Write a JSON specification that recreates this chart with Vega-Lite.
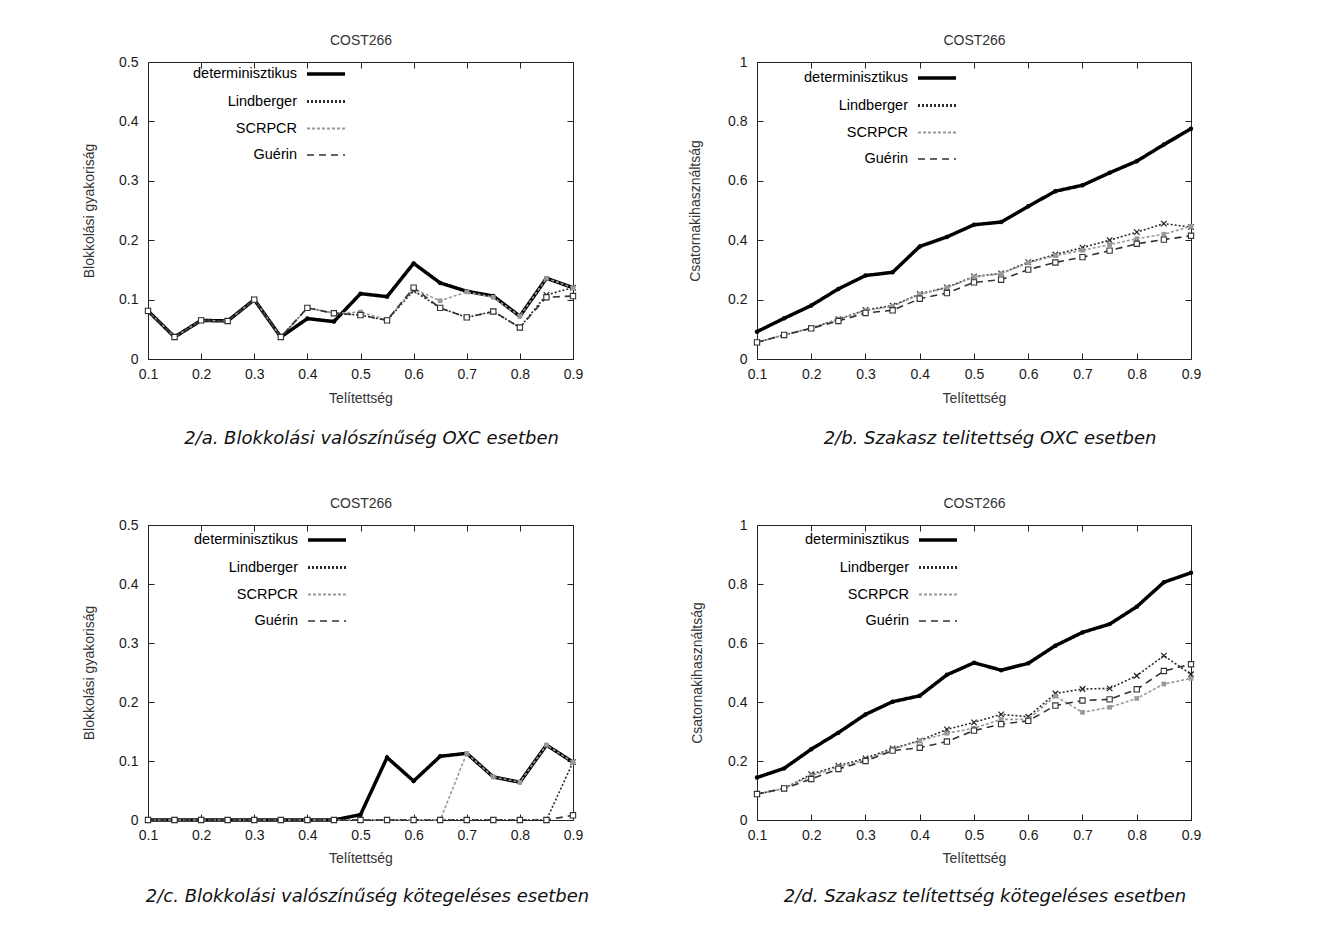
{
"$schema": "https://vega.github.io/schema/vega-lite/v6.json",
"background": "white",
"padding": {"left": 82, "top": 33, "right": 10, "bottom": 10},
"data": {"values": [
{"panel":"a","series":"determinisztikus","x":0.1,"y":0.081},{"panel":"a","series":"determinisztikus","x":0.15,"y":0.037},{"panel":"a","series":"determinisztikus","x":0.2,"y":0.065},{"panel":"a","series":"determinisztikus","x":0.25,"y":0.064},{"panel":"a","series":"determinisztikus","x":0.3,"y":0.100},{"panel":"a","series":"determinisztikus","x":0.35,"y":0.037},{"panel":"a","series":"determinisztikus","x":0.4,"y":0.068},{"panel":"a","series":"determinisztikus","x":0.45,"y":0.063},{"panel":"a","series":"determinisztikus","x":0.5,"y":0.110},{"panel":"a","series":"determinisztikus","x":0.55,"y":0.105},{"panel":"a","series":"determinisztikus","x":0.6,"y":0.161},{"panel":"a","series":"determinisztikus","x":0.65,"y":0.128},{"panel":"a","series":"determinisztikus","x":0.7,"y":0.114},{"panel":"a","series":"determinisztikus","x":0.75,"y":0.106},{"panel":"a","series":"determinisztikus","x":0.8,"y":0.072},{"panel":"a","series":"determinisztikus","x":0.85,"y":0.136},{"panel":"a","series":"determinisztikus","x":0.9,"y":0.120},
{"panel":"a","series":"Lindberger","x":0.1,"y":0.081},{"panel":"a","series":"Lindberger","x":0.15,"y":0.037},{"panel":"a","series":"Lindberger","x":0.2,"y":0.065},{"panel":"a","series":"Lindberger","x":0.25,"y":0.064},{"panel":"a","series":"Lindberger","x":0.3,"y":0.100},{"panel":"a","series":"Lindberger","x":0.35,"y":0.037},{"panel":"a","series":"Lindberger","x":0.4,"y":0.086},{"panel":"a","series":"Lindberger","x":0.45,"y":0.077},{"panel":"a","series":"Lindberger","x":0.5,"y":0.074},{"panel":"a","series":"Lindberger","x":0.55,"y":0.065},{"panel":"a","series":"Lindberger","x":0.6,"y":0.115},{"panel":"a","series":"Lindberger","x":0.65,"y":0.086},{"panel":"a","series":"Lindberger","x":0.7,"y":0.070},{"panel":"a","series":"Lindberger","x":0.75,"y":0.080},{"panel":"a","series":"Lindberger","x":0.8,"y":0.053},{"panel":"a","series":"Lindberger","x":0.85,"y":0.108},{"panel":"a","series":"Lindberger","x":0.9,"y":0.120},
{"panel":"a","series":"SCRPCR","x":0.1,"y":0.081},{"panel":"a","series":"SCRPCR","x":0.15,"y":0.037},{"panel":"a","series":"SCRPCR","x":0.2,"y":0.065},{"panel":"a","series":"SCRPCR","x":0.25,"y":0.064},{"panel":"a","series":"SCRPCR","x":0.3,"y":0.100},{"panel":"a","series":"SCRPCR","x":0.35,"y":0.037},{"panel":"a","series":"SCRPCR","x":0.4,"y":0.086},{"panel":"a","series":"SCRPCR","x":0.45,"y":0.077},{"panel":"a","series":"SCRPCR","x":0.5,"y":0.079},{"panel":"a","series":"SCRPCR","x":0.55,"y":0.066},{"panel":"a","series":"SCRPCR","x":0.6,"y":0.118},{"panel":"a","series":"SCRPCR","x":0.65,"y":0.098},{"panel":"a","series":"SCRPCR","x":0.7,"y":0.113},{"panel":"a","series":"SCRPCR","x":0.75,"y":0.104},{"panel":"a","series":"SCRPCR","x":0.8,"y":0.072},{"panel":"a","series":"SCRPCR","x":0.85,"y":0.136},{"panel":"a","series":"SCRPCR","x":0.9,"y":0.120},
{"panel":"a","series":"Guérin","x":0.1,"y":0.081},{"panel":"a","series":"Guérin","x":0.15,"y":0.037},{"panel":"a","series":"Guérin","x":0.2,"y":0.065},{"panel":"a","series":"Guérin","x":0.25,"y":0.064},{"panel":"a","series":"Guérin","x":0.3,"y":0.100},{"panel":"a","series":"Guérin","x":0.35,"y":0.037},{"panel":"a","series":"Guérin","x":0.4,"y":0.086},{"panel":"a","series":"Guérin","x":0.45,"y":0.077},{"panel":"a","series":"Guérin","x":0.5,"y":0.074},{"panel":"a","series":"Guérin","x":0.55,"y":0.065},{"panel":"a","series":"Guérin","x":0.6,"y":0.120},{"panel":"a","series":"Guérin","x":0.65,"y":0.086},{"panel":"a","series":"Guérin","x":0.7,"y":0.070},{"panel":"a","series":"Guérin","x":0.75,"y":0.080},{"panel":"a","series":"Guérin","x":0.8,"y":0.053},{"panel":"a","series":"Guérin","x":0.85,"y":0.104},{"panel":"a","series":"Guérin","x":0.9,"y":0.106},
{"panel":"b","series":"determinisztikus","x":0.1,"y":0.092},{"panel":"b","series":"determinisztikus","x":0.15,"y":0.137},{"panel":"b","series":"determinisztikus","x":0.2,"y":0.180},{"panel":"b","series":"determinisztikus","x":0.25,"y":0.236},{"panel":"b","series":"determinisztikus","x":0.3,"y":0.281},{"panel":"b","series":"determinisztikus","x":0.35,"y":0.292},{"panel":"b","series":"determinisztikus","x":0.4,"y":0.379},{"panel":"b","series":"determinisztikus","x":0.45,"y":0.411},{"panel":"b","series":"determinisztikus","x":0.5,"y":0.452},{"panel":"b","series":"determinisztikus","x":0.55,"y":0.461},{"panel":"b","series":"determinisztikus","x":0.6,"y":0.514},{"panel":"b","series":"determinisztikus","x":0.65,"y":0.565},{"panel":"b","series":"determinisztikus","x":0.7,"y":0.585},{"panel":"b","series":"determinisztikus","x":0.75,"y":0.627},{"panel":"b","series":"determinisztikus","x":0.8,"y":0.666},{"panel":"b","series":"determinisztikus","x":0.85,"y":0.722},{"panel":"b","series":"determinisztikus","x":0.9,"y":0.775},
{"panel":"b","series":"Lindberger","x":0.1,"y":0.056},{"panel":"b","series":"Lindberger","x":0.15,"y":0.081},{"panel":"b","series":"Lindberger","x":0.2,"y":0.104},{"panel":"b","series":"Lindberger","x":0.25,"y":0.134},{"panel":"b","series":"Lindberger","x":0.3,"y":0.165},{"panel":"b","series":"Lindberger","x":0.35,"y":0.180},{"panel":"b","series":"Lindberger","x":0.4,"y":0.219},{"panel":"b","series":"Lindberger","x":0.45,"y":0.241},{"panel":"b","series":"Lindberger","x":0.5,"y":0.278},{"panel":"b","series":"Lindberger","x":0.55,"y":0.288},{"panel":"b","series":"Lindberger","x":0.6,"y":0.326},{"panel":"b","series":"Lindberger","x":0.65,"y":0.352},{"panel":"b","series":"Lindberger","x":0.7,"y":0.375},{"panel":"b","series":"Lindberger","x":0.75,"y":0.400},{"panel":"b","series":"Lindberger","x":0.8,"y":0.427},{"panel":"b","series":"Lindberger","x":0.85,"y":0.456},{"panel":"b","series":"Lindberger","x":0.9,"y":0.444},
{"panel":"b","series":"SCRPCR","x":0.1,"y":0.056},{"panel":"b","series":"SCRPCR","x":0.15,"y":0.081},{"panel":"b","series":"SCRPCR","x":0.2,"y":0.104},{"panel":"b","series":"SCRPCR","x":0.25,"y":0.134},{"panel":"b","series":"SCRPCR","x":0.3,"y":0.163},{"panel":"b","series":"SCRPCR","x":0.35,"y":0.177},{"panel":"b","series":"SCRPCR","x":0.4,"y":0.218},{"panel":"b","series":"SCRPCR","x":0.45,"y":0.240},{"panel":"b","series":"SCRPCR","x":0.5,"y":0.276},{"panel":"b","series":"SCRPCR","x":0.55,"y":0.287},{"panel":"b","series":"SCRPCR","x":0.6,"y":0.324},{"panel":"b","series":"SCRPCR","x":0.65,"y":0.348},{"panel":"b","series":"SCRPCR","x":0.7,"y":0.366},{"panel":"b","series":"SCRPCR","x":0.75,"y":0.385},{"panel":"b","series":"SCRPCR","x":0.8,"y":0.405},{"panel":"b","series":"SCRPCR","x":0.85,"y":0.420},{"panel":"b","series":"SCRPCR","x":0.9,"y":0.447},
{"panel":"b","series":"Guérin","x":0.1,"y":0.056},{"panel":"b","series":"Guérin","x":0.15,"y":0.081},{"panel":"b","series":"Guérin","x":0.2,"y":0.103},{"panel":"b","series":"Guérin","x":0.25,"y":0.128},{"panel":"b","series":"Guérin","x":0.3,"y":0.155},{"panel":"b","series":"Guérin","x":0.35,"y":0.164},{"panel":"b","series":"Guérin","x":0.4,"y":0.203},{"panel":"b","series":"Guérin","x":0.45,"y":0.222},{"panel":"b","series":"Guérin","x":0.5,"y":0.258},{"panel":"b","series":"Guérin","x":0.55,"y":0.267},{"panel":"b","series":"Guérin","x":0.6,"y":0.301},{"panel":"b","series":"Guérin","x":0.65,"y":0.325},{"panel":"b","series":"Guérin","x":0.7,"y":0.343},{"panel":"b","series":"Guérin","x":0.75,"y":0.365},{"panel":"b","series":"Guérin","x":0.8,"y":0.388},{"panel":"b","series":"Guérin","x":0.85,"y":0.402},{"panel":"b","series":"Guérin","x":0.9,"y":0.415},
{"panel":"c","series":"determinisztikus","x":0.1,"y":0},{"panel":"c","series":"determinisztikus","x":0.15,"y":0},{"panel":"c","series":"determinisztikus","x":0.2,"y":0},{"panel":"c","series":"determinisztikus","x":0.25,"y":0},{"panel":"c","series":"determinisztikus","x":0.3,"y":0},{"panel":"c","series":"determinisztikus","x":0.35,"y":0},{"panel":"c","series":"determinisztikus","x":0.4,"y":0},{"panel":"c","series":"determinisztikus","x":0.45,"y":0},{"panel":"c","series":"determinisztikus","x":0.5,"y":0.009},{"panel":"c","series":"determinisztikus","x":0.55,"y":0.106},{"panel":"c","series":"determinisztikus","x":0.6,"y":0.066},{"panel":"c","series":"determinisztikus","x":0.65,"y":0.108},{"panel":"c","series":"determinisztikus","x":0.7,"y":0.113},{"panel":"c","series":"determinisztikus","x":0.75,"y":0.073},{"panel":"c","series":"determinisztikus","x":0.8,"y":0.064},{"panel":"c","series":"determinisztikus","x":0.85,"y":0.127},{"panel":"c","series":"determinisztikus","x":0.9,"y":0.098},
{"panel":"c","series":"Lindberger","x":0.1,"y":0},{"panel":"c","series":"Lindberger","x":0.15,"y":0},{"panel":"c","series":"Lindberger","x":0.2,"y":0},{"panel":"c","series":"Lindberger","x":0.25,"y":0},{"panel":"c","series":"Lindberger","x":0.3,"y":0},{"panel":"c","series":"Lindberger","x":0.35,"y":0},{"panel":"c","series":"Lindberger","x":0.4,"y":0},{"panel":"c","series":"Lindberger","x":0.45,"y":0},{"panel":"c","series":"Lindberger","x":0.5,"y":0},{"panel":"c","series":"Lindberger","x":0.55,"y":0},{"panel":"c","series":"Lindberger","x":0.6,"y":0},{"panel":"c","series":"Lindberger","x":0.65,"y":0},{"panel":"c","series":"Lindberger","x":0.7,"y":0},{"panel":"c","series":"Lindberger","x":0.75,"y":0},{"panel":"c","series":"Lindberger","x":0.8,"y":0},{"panel":"c","series":"Lindberger","x":0.85,"y":0},{"panel":"c","series":"Lindberger","x":0.9,"y":0.098},
{"panel":"c","series":"SCRPCR","x":0.1,"y":0},{"panel":"c","series":"SCRPCR","x":0.15,"y":0},{"panel":"c","series":"SCRPCR","x":0.2,"y":0},{"panel":"c","series":"SCRPCR","x":0.25,"y":0},{"panel":"c","series":"SCRPCR","x":0.3,"y":0},{"panel":"c","series":"SCRPCR","x":0.35,"y":0},{"panel":"c","series":"SCRPCR","x":0.4,"y":0},{"panel":"c","series":"SCRPCR","x":0.45,"y":0},{"panel":"c","series":"SCRPCR","x":0.5,"y":0},{"panel":"c","series":"SCRPCR","x":0.55,"y":0},{"panel":"c","series":"SCRPCR","x":0.6,"y":0},{"panel":"c","series":"SCRPCR","x":0.65,"y":0},{"panel":"c","series":"SCRPCR","x":0.7,"y":0.113},{"panel":"c","series":"SCRPCR","x":0.75,"y":0.073},{"panel":"c","series":"SCRPCR","x":0.8,"y":0.064},{"panel":"c","series":"SCRPCR","x":0.85,"y":0.127},{"panel":"c","series":"SCRPCR","x":0.9,"y":0.098},
{"panel":"c","series":"Guérin","x":0.1,"y":0},{"panel":"c","series":"Guérin","x":0.15,"y":0},{"panel":"c","series":"Guérin","x":0.2,"y":0},{"panel":"c","series":"Guérin","x":0.25,"y":0},{"panel":"c","series":"Guérin","x":0.3,"y":0},{"panel":"c","series":"Guérin","x":0.35,"y":0},{"panel":"c","series":"Guérin","x":0.4,"y":0},{"panel":"c","series":"Guérin","x":0.45,"y":0},{"panel":"c","series":"Guérin","x":0.5,"y":0},{"panel":"c","series":"Guérin","x":0.55,"y":0},{"panel":"c","series":"Guérin","x":0.6,"y":0},{"panel":"c","series":"Guérin","x":0.65,"y":0},{"panel":"c","series":"Guérin","x":0.7,"y":0},{"panel":"c","series":"Guérin","x":0.75,"y":0},{"panel":"c","series":"Guérin","x":0.8,"y":0},{"panel":"c","series":"Guérin","x":0.85,"y":0},{"panel":"c","series":"Guérin","x":0.9,"y":0.008},
{"panel":"d","series":"determinisztikus","x":0.1,"y":0.144},{"panel":"d","series":"determinisztikus","x":0.15,"y":0.175},{"panel":"d","series":"determinisztikus","x":0.2,"y":0.240},{"panel":"d","series":"determinisztikus","x":0.25,"y":0.296},{"panel":"d","series":"determinisztikus","x":0.3,"y":0.358},{"panel":"d","series":"determinisztikus","x":0.35,"y":0.401},{"panel":"d","series":"determinisztikus","x":0.4,"y":0.421},{"panel":"d","series":"determinisztikus","x":0.45,"y":0.492},{"panel":"d","series":"determinisztikus","x":0.5,"y":0.533},{"panel":"d","series":"determinisztikus","x":0.55,"y":0.508},{"panel":"d","series":"determinisztikus","x":0.6,"y":0.531},{"panel":"d","series":"determinisztikus","x":0.65,"y":0.591},{"panel":"d","series":"determinisztikus","x":0.7,"y":0.636},{"panel":"d","series":"determinisztikus","x":0.75,"y":0.664},{"panel":"d","series":"determinisztikus","x":0.8,"y":0.723},{"panel":"d","series":"determinisztikus","x":0.85,"y":0.806},{"panel":"d","series":"determinisztikus","x":0.9,"y":0.838},
{"panel":"d","series":"Lindberger","x":0.1,"y":0.088},{"panel":"d","series":"Lindberger","x":0.15,"y":0.107},{"panel":"d","series":"Lindberger","x":0.2,"y":0.155},{"panel":"d","series":"Lindberger","x":0.25,"y":0.184},{"panel":"d","series":"Lindberger","x":0.3,"y":0.209},{"panel":"d","series":"Lindberger","x":0.35,"y":0.243},{"panel":"d","series":"Lindberger","x":0.4,"y":0.269},{"panel":"d","series":"Lindberger","x":0.45,"y":0.307},{"panel":"d","series":"Lindberger","x":0.5,"y":0.331},{"panel":"d","series":"Lindberger","x":0.55,"y":0.358},{"panel":"d","series":"Lindberger","x":0.6,"y":0.350},{"panel":"d","series":"Lindberger","x":0.65,"y":0.429},{"panel":"d","series":"Lindberger","x":0.7,"y":0.444},{"panel":"d","series":"Lindberger","x":0.75,"y":0.446},{"panel":"d","series":"Lindberger","x":0.8,"y":0.489},{"panel":"d","series":"Lindberger","x":0.85,"y":0.557},{"panel":"d","series":"Lindberger","x":0.9,"y":0.494},
{"panel":"d","series":"SCRPCR","x":0.1,"y":0.088},{"panel":"d","series":"SCRPCR","x":0.15,"y":0.107},{"panel":"d","series":"SCRPCR","x":0.2,"y":0.150},{"panel":"d","series":"SCRPCR","x":0.25,"y":0.180},{"panel":"d","series":"SCRPCR","x":0.3,"y":0.203},{"panel":"d","series":"SCRPCR","x":0.35,"y":0.240},{"panel":"d","series":"SCRPCR","x":0.4,"y":0.268},{"panel":"d","series":"SCRPCR","x":0.45,"y":0.294},{"panel":"d","series":"SCRPCR","x":0.5,"y":0.311},{"panel":"d","series":"SCRPCR","x":0.55,"y":0.341},{"panel":"d","series":"SCRPCR","x":0.6,"y":0.341},{"panel":"d","series":"SCRPCR","x":0.65,"y":0.420},{"panel":"d","series":"SCRPCR","x":0.7,"y":0.365},{"panel":"d","series":"SCRPCR","x":0.75,"y":0.382},{"panel":"d","series":"SCRPCR","x":0.8,"y":0.412},{"panel":"d","series":"SCRPCR","x":0.85,"y":0.461},{"panel":"d","series":"SCRPCR","x":0.9,"y":0.480},
{"panel":"d","series":"Guérin","x":0.1,"y":0.088},{"panel":"d","series":"Guérin","x":0.15,"y":0.107},{"panel":"d","series":"Guérin","x":0.2,"y":0.139},{"panel":"d","series":"Guérin","x":0.25,"y":0.173},{"panel":"d","series":"Guérin","x":0.3,"y":0.200},{"panel":"d","series":"Guérin","x":0.35,"y":0.235},{"panel":"d","series":"Guérin","x":0.4,"y":0.245},{"panel":"d","series":"Guérin","x":0.45,"y":0.266},{"panel":"d","series":"Guérin","x":0.5,"y":0.303},{"panel":"d","series":"Guérin","x":0.55,"y":0.325},{"panel":"d","series":"Guérin","x":0.6,"y":0.336},{"panel":"d","series":"Guérin","x":0.65,"y":0.388},{"panel":"d","series":"Guérin","x":0.7,"y":0.405},{"panel":"d","series":"Guérin","x":0.75,"y":0.409},{"panel":"d","series":"Guérin","x":0.8,"y":0.443},{"panel":"d","series":"Guérin","x":0.85,"y":0.505},{"panel":"d","series":"Guérin","x":0.9,"y":0.528}
]},
"columns": 2,
"bounds": "flush",
"align": "each",
"spacing": {"row": 166, "column": 184},
"resolve": {"scale": {"x": "independent", "y": "independent", "stroke": "independent", "strokeDash": "independent", "strokeWidth": "independent"}},
"concat": [
{
 "width": 425, "height": 297,
 "title": {"text": "2/a. Blokkolási valószínűség OXC esetben", "dx": 11, "offset": 25},
 "transform": [{"filter": "datum.panel === 'a'"}],
 "resolve": {"axis": {"x": "independent", "y": "independent"}},
 "layer": [
  {"transform": [{"filter": "datum.series === 'determinisztikus'"}],
   "mark": {"type": "line"},
   "encoding": {
    "x": {"field": "x", "type": "quantitative", "scale": {"domain": [0.1, 0.9], "nice": false, "zero": false}, "axis": {"orient": "bottom", "values": [0.1,0.2,0.3,0.4,0.5,0.6,0.7,0.8,0.9], "format": "~g", "title": "Telítettség", "labelPadding": 14, "titlePadding": 10}},
    "y": {"field": "y", "type": "quantitative", "scale": {"domain": [0, 0.5], "nice": false}, "axis": {"orient": "left", "values": [0,0.1,0.2,0.3,0.4,0.5], "format": "~g", "title": "Blokkolási gyakoriság", "labelPadding": 16, "titlePadding": 22}},
    "stroke": {"field": "series", "type": "nominal", "scale": {"domain": ["determinisztikus","Lindberger","SCRPCR","Guérin"], "range": ["#000000","#2a2a2a","#999999","#333333"]}, "legend": {"title": null, "orient": "none", "legendX": 157, "legendY": -9}},
    "strokeDash": {"field": "series", "type": "nominal", "scale": {"domain": ["determinisztikus","Lindberger","SCRPCR","Guérin"], "range": [[1,0],[2,2],[3,2],[7,5]]}, "legend": {"title": null, "orient": "none", "legendX": 157, "legendY": -9}},
    "strokeWidth": {"field": "series", "type": "nominal", "scale": {"type": "point", "domain": ["determinisztikus","Lindberger","SCRPCR","Guérin"], "range": [3.5, 1.6]}, "legend": {"title": null, "orient": "none", "legendX": 157, "legendY": -9}}
   }},
  {"transform": [{"filter": "datum.series !== 'determinisztikus'"}],
   "mark": {"type": "line", "strokeWidth": 1.6},
   "encoding": {
    "x": {"field": "x", "type": "quantitative", "scale": {"domain": [0.1, 0.9], "nice": false, "zero": false}, "axis": null},
    "y": {"field": "y", "type": "quantitative", "scale": {"domain": [0, 0.5], "nice": false}, "axis": null},
    "stroke": {"field": "series", "type": "nominal", "scale": {"domain": ["determinisztikus","Lindberger","SCRPCR","Guérin"], "range": ["#000000","#2a2a2a","#999999","#333333"]}, "legend": {"title": null, "orient": "none", "legendX": 157, "legendY": -9}},
    "strokeDash": {"field": "series", "type": "nominal", "scale": {"domain": ["determinisztikus","Lindberger","SCRPCR","Guérin"], "range": [[1,0],[2,2],[3,2],[7,5]]}, "legend": {"title": null, "orient": "none", "legendX": 157, "legendY": -9}}
   }},
  {"transform": [{"filter": "datum.series === 'determinisztikus'"}],
   "mark": {"type": "point", "shape": "circle", "filled": true, "color": "#000000", "size": 20, "opacity": 1},
   "encoding": {
    "x": {"field": "x", "type": "quantitative", "scale": {"domain": [0.1, 0.9], "nice": false, "zero": false}, "axis": {"orient": "top", "values": [0.1,0.2,0.3,0.4,0.5,0.6,0.7,0.8,0.9], "labels": false, "title": "COST266", "titlePadding": 14}},
    "y": {"field": "y", "type": "quantitative", "scale": {"domain": [0, 0.5], "nice": false}, "axis": {"orient": "right", "values": [0,0.1,0.2,0.3,0.4,0.5], "labels": false, "title": null}}
   }},
  {"transform": [{"filter": "datum.series === 'Lindberger'"}],
   "mark": {"type": "point", "shape": "M-1,-1L1,1M-1,1L1,-1", "filled": false, "stroke": "#222222", "strokeWidth": 1.2, "size": 30, "opacity": 1},
   "encoding": {
    "x": {"field": "x", "type": "quantitative", "scale": {"domain": [0.1, 0.9], "nice": false, "zero": false}, "axis": null},
    "y": {"field": "y", "type": "quantitative", "scale": {"domain": [0, 0.5], "nice": false}, "axis": null}
   }},
  {"transform": [{"filter": "datum.series === 'SCRPCR'"}],
   "mark": {"type": "point", "shape": "square", "filled": true, "color": "#999999", "size": 22, "opacity": 1},
   "encoding": {
    "x": {"field": "x", "type": "quantitative", "scale": {"domain": [0.1, 0.9], "nice": false, "zero": false}, "axis": null},
    "y": {"field": "y", "type": "quantitative", "scale": {"domain": [0, 0.5], "nice": false}, "axis": null}
   }},
  {"transform": [{"filter": "datum.series === 'Guérin'"}],
   "mark": {"type": "point", "shape": "square", "filled": true, "fill": "#ffffff", "stroke": "#333333", "strokeWidth": 1.1, "size": 28, "opacity": 1},
   "encoding": {
    "x": {"field": "x", "type": "quantitative", "scale": {"domain": [0.1, 0.9], "nice": false, "zero": false}, "axis": null},
    "y": {"field": "y", "type": "quantitative", "scale": {"domain": [0, 0.5], "nice": false}, "axis": null}
   }}
 ]
},
{
 "width": 434, "height": 297,
 "title": {"text": "2/b. Szakasz telitettség OXC esetben", "dx": 16, "offset": 25},
 "transform": [{"filter": "datum.panel === 'b'"}],
 "resolve": {"axis": {"x": "independent", "y": "independent"}},
 "layer": [
  {"transform": [{"filter": "datum.series === 'determinisztikus'"}],
   "mark": {"type": "line"},
   "encoding": {
    "x": {"field": "x", "type": "quantitative", "scale": {"domain": [0.1, 0.9], "nice": false, "zero": false}, "axis": {"orient": "bottom", "values": [0.1,0.2,0.3,0.4,0.5,0.6,0.7,0.8,0.9], "format": "~g", "title": "Telítettség", "labelPadding": 14, "titlePadding": 10}},
    "y": {"field": "y", "type": "quantitative", "scale": {"domain": [0, 1], "nice": false}, "axis": {"orient": "left", "values": [0,0.2,0.4,0.6,0.8,1], "format": "~g", "title": "Csatornakihasználtság", "labelPadding": 16, "titlePadding": 25}},
    "stroke": {"field": "series", "type": "nominal", "scale": {"domain": ["determinisztikus","Lindberger","SCRPCR","Guérin"], "range": ["#000000","#2a2a2a","#999999","#333333"]}, "legend": {"title": null, "orient": "none", "legendX": 159, "legendY": -5}},
    "strokeDash": {"field": "series", "type": "nominal", "scale": {"domain": ["determinisztikus","Lindberger","SCRPCR","Guérin"], "range": [[1,0],[2,2],[3,2],[7,5]]}, "legend": {"title": null, "orient": "none", "legendX": 159, "legendY": -5}},
    "strokeWidth": {"field": "series", "type": "nominal", "scale": {"type": "point", "domain": ["determinisztikus","Lindberger","SCRPCR","Guérin"], "range": [3.5, 1.6]}, "legend": {"title": null, "orient": "none", "legendX": 159, "legendY": -5}}
   }},
  {"transform": [{"filter": "datum.series !== 'determinisztikus'"}],
   "mark": {"type": "line", "strokeWidth": 1.6},
   "encoding": {
    "x": {"field": "x", "type": "quantitative", "scale": {"domain": [0.1, 0.9], "nice": false, "zero": false}, "axis": null},
    "y": {"field": "y", "type": "quantitative", "scale": {"domain": [0, 1], "nice": false}, "axis": null},
    "stroke": {"field": "series", "type": "nominal", "scale": {"domain": ["determinisztikus","Lindberger","SCRPCR","Guérin"], "range": ["#000000","#2a2a2a","#999999","#333333"]}, "legend": {"title": null, "orient": "none", "legendX": 159, "legendY": -5}},
    "strokeDash": {"field": "series", "type": "nominal", "scale": {"domain": ["determinisztikus","Lindberger","SCRPCR","Guérin"], "range": [[1,0],[2,2],[3,2],[7,5]]}, "legend": {"title": null, "orient": "none", "legendX": 159, "legendY": -5}}
   }},
  {"transform": [{"filter": "datum.series === 'determinisztikus'"}],
   "mark": {"type": "point", "shape": "circle", "filled": true, "color": "#000000", "size": 20, "opacity": 1},
   "encoding": {
    "x": {"field": "x", "type": "quantitative", "scale": {"domain": [0.1, 0.9], "nice": false, "zero": false}, "axis": {"orient": "top", "values": [0.1,0.2,0.3,0.4,0.5,0.6,0.7,0.8,0.9], "labels": false, "title": "COST266", "titlePadding": 14}},
    "y": {"field": "y", "type": "quantitative", "scale": {"domain": [0, 1], "nice": false}, "axis": {"orient": "right", "values": [0,0.2,0.4,0.6,0.8,1], "labels": false, "title": null}}
   }},
  {"transform": [{"filter": "datum.series === 'Lindberger'"}],
   "mark": {"type": "point", "shape": "M-1,-1L1,1M-1,1L1,-1", "filled": false, "stroke": "#222222", "strokeWidth": 1.2, "size": 30, "opacity": 1},
   "encoding": {
    "x": {"field": "x", "type": "quantitative", "scale": {"domain": [0.1, 0.9], "nice": false, "zero": false}, "axis": null},
    "y": {"field": "y", "type": "quantitative", "scale": {"domain": [0, 1], "nice": false}, "axis": null}
   }},
  {"transform": [{"filter": "datum.series === 'SCRPCR'"}],
   "mark": {"type": "point", "shape": "square", "filled": true, "color": "#999999", "size": 22, "opacity": 1},
   "encoding": {
    "x": {"field": "x", "type": "quantitative", "scale": {"domain": [0.1, 0.9], "nice": false, "zero": false}, "axis": null},
    "y": {"field": "y", "type": "quantitative", "scale": {"domain": [0, 1], "nice": false}, "axis": null}
   }},
  {"transform": [{"filter": "datum.series === 'Guérin'"}],
   "mark": {"type": "point", "shape": "square", "filled": true, "fill": "#ffffff", "stroke": "#333333", "strokeWidth": 1.1, "size": 28, "opacity": 1},
   "encoding": {
    "x": {"field": "x", "type": "quantitative", "scale": {"domain": [0.1, 0.9], "nice": false, "zero": false}, "axis": null},
    "y": {"field": "y", "type": "quantitative", "scale": {"domain": [0, 1], "nice": false}, "axis": null}
   }}
 ]
},
{
 "width": 425, "height": 295,
 "title": {"text": "2/c. Blokkolási valószínűség kötegeléses esetben", "dx": 7, "offset": 23},
 "transform": [{"filter": "datum.panel === 'c'"}],
 "resolve": {"axis": {"x": "independent", "y": "independent"}},
 "layer": [
  {"transform": [{"filter": "datum.series === 'determinisztikus'"}],
   "mark": {"type": "line"},
   "encoding": {
    "x": {"field": "x", "type": "quantitative", "scale": {"domain": [0.1, 0.9], "nice": false, "zero": false}, "axis": {"orient": "bottom", "values": [0.1,0.2,0.3,0.4,0.5,0.6,0.7,0.8,0.9], "format": "~g", "title": "Telítettség", "labelPadding": 14, "titlePadding": 9}},
    "y": {"field": "y", "type": "quantitative", "scale": {"domain": [0, 0.5], "nice": false}, "axis": {"orient": "left", "values": [0,0.1,0.2,0.3,0.4,0.5], "format": "~g", "title": "Blokkolási gyakoriság", "labelPadding": 16, "titlePadding": 22}},
    "stroke": {"field": "series", "type": "nominal", "scale": {"domain": ["determinisztikus","Lindberger","SCRPCR","Guérin"], "range": ["#000000","#2a2a2a","#999999","#333333"]}, "legend": {"title": null, "orient": "none", "legendX": 158, "legendY": -6}},
    "strokeDash": {"field": "series", "type": "nominal", "scale": {"domain": ["determinisztikus","Lindberger","SCRPCR","Guérin"], "range": [[1,0],[2,2],[3,2],[7,5]]}, "legend": {"title": null, "orient": "none", "legendX": 158, "legendY": -6}},
    "strokeWidth": {"field": "series", "type": "nominal", "scale": {"type": "point", "domain": ["determinisztikus","Lindberger","SCRPCR","Guérin"], "range": [3.5, 1.6]}, "legend": {"title": null, "orient": "none", "legendX": 158, "legendY": -6}}
   }},
  {"transform": [{"filter": "datum.series !== 'determinisztikus'"}],
   "mark": {"type": "line", "strokeWidth": 1.6},
   "encoding": {
    "x": {"field": "x", "type": "quantitative", "scale": {"domain": [0.1, 0.9], "nice": false, "zero": false}, "axis": null},
    "y": {"field": "y", "type": "quantitative", "scale": {"domain": [0, 0.5], "nice": false}, "axis": null},
    "stroke": {"field": "series", "type": "nominal", "scale": {"domain": ["determinisztikus","Lindberger","SCRPCR","Guérin"], "range": ["#000000","#2a2a2a","#999999","#333333"]}, "legend": {"title": null, "orient": "none", "legendX": 158, "legendY": -6}},
    "strokeDash": {"field": "series", "type": "nominal", "scale": {"domain": ["determinisztikus","Lindberger","SCRPCR","Guérin"], "range": [[1,0],[2,2],[3,2],[7,5]]}, "legend": {"title": null, "orient": "none", "legendX": 158, "legendY": -6}}
   }},
  {"transform": [{"filter": "datum.series === 'determinisztikus'"}],
   "mark": {"type": "point", "shape": "circle", "filled": true, "color": "#000000", "size": 20, "opacity": 1},
   "encoding": {
    "x": {"field": "x", "type": "quantitative", "scale": {"domain": [0.1, 0.9], "nice": false, "zero": false}, "axis": {"orient": "top", "values": [0.1,0.2,0.3,0.4,0.5,0.6,0.7,0.8,0.9], "labels": false, "title": "COST266", "titlePadding": 14}},
    "y": {"field": "y", "type": "quantitative", "scale": {"domain": [0, 0.5], "nice": false}, "axis": {"orient": "right", "values": [0,0.1,0.2,0.3,0.4,0.5], "labels": false, "title": null}}
   }},
  {"transform": [{"filter": "datum.series === 'Lindberger'"}],
   "mark": {"type": "point", "shape": "M-1,-1L1,1M-1,1L1,-1", "filled": false, "stroke": "#222222", "strokeWidth": 1.2, "size": 30, "opacity": 1},
   "encoding": {
    "x": {"field": "x", "type": "quantitative", "scale": {"domain": [0.1, 0.9], "nice": false, "zero": false}, "axis": null},
    "y": {"field": "y", "type": "quantitative", "scale": {"domain": [0, 0.5], "nice": false}, "axis": null}
   }},
  {"transform": [{"filter": "datum.series === 'SCRPCR'"}],
   "mark": {"type": "point", "shape": "square", "filled": true, "color": "#999999", "size": 22, "opacity": 1},
   "encoding": {
    "x": {"field": "x", "type": "quantitative", "scale": {"domain": [0.1, 0.9], "nice": false, "zero": false}, "axis": null},
    "y": {"field": "y", "type": "quantitative", "scale": {"domain": [0, 0.5], "nice": false}, "axis": null}
   }},
  {"transform": [{"filter": "datum.series === 'Guérin'"}],
   "mark": {"type": "point", "shape": "square", "filled": true, "fill": "#ffffff", "stroke": "#333333", "strokeWidth": 1.1, "size": 28, "opacity": 1},
   "encoding": {
    "x": {"field": "x", "type": "quantitative", "scale": {"domain": [0.1, 0.9], "nice": false, "zero": false}, "axis": null},
    "y": {"field": "y", "type": "quantitative", "scale": {"domain": [0, 0.5], "nice": false}, "axis": null}
   }}
 ]
},
{
 "width": 434, "height": 295,
 "title": {"text": "2/d. Szakasz telítettség kötegeléses esetben", "dx": 11, "offset": 23},
 "transform": [{"filter": "datum.panel === 'd'"}],
 "resolve": {"axis": {"x": "independent", "y": "independent"}},
 "layer": [
  {"transform": [{"filter": "datum.series === 'determinisztikus'"}],
   "mark": {"type": "line"},
   "encoding": {
    "x": {"field": "x", "type": "quantitative", "scale": {"domain": [0.1, 0.9], "nice": false, "zero": false}, "axis": {"orient": "bottom", "values": [0.1,0.2,0.3,0.4,0.5,0.6,0.7,0.8,0.9], "format": "~g", "title": "Telítettség", "labelPadding": 14, "titlePadding": 9}},
    "y": {"field": "y", "type": "quantitative", "scale": {"domain": [0, 1], "nice": false}, "axis": {"orient": "left", "values": [0,0.2,0.4,0.6,0.8,1], "format": "~g", "title": "Csatornakihasználtság", "labelPadding": 16, "titlePadding": 23}},
    "stroke": {"field": "series", "type": "nominal", "scale": {"domain": ["determinisztikus","Lindberger","SCRPCR","Guérin"], "range": ["#000000","#2a2a2a","#999999","#333333"]}, "legend": {"title": null, "orient": "none", "legendX": 160, "legendY": -6}},
    "strokeDash": {"field": "series", "type": "nominal", "scale": {"domain": ["determinisztikus","Lindberger","SCRPCR","Guérin"], "range": [[1,0],[2,2],[3,2],[7,5]]}, "legend": {"title": null, "orient": "none", "legendX": 160, "legendY": -6}},
    "strokeWidth": {"field": "series", "type": "nominal", "scale": {"type": "point", "domain": ["determinisztikus","Lindberger","SCRPCR","Guérin"], "range": [3.5, 1.6]}, "legend": {"title": null, "orient": "none", "legendX": 160, "legendY": -6}}
   }},
  {"transform": [{"filter": "datum.series !== 'determinisztikus'"}],
   "mark": {"type": "line", "strokeWidth": 1.6},
   "encoding": {
    "x": {"field": "x", "type": "quantitative", "scale": {"domain": [0.1, 0.9], "nice": false, "zero": false}, "axis": null},
    "y": {"field": "y", "type": "quantitative", "scale": {"domain": [0, 1], "nice": false}, "axis": null},
    "stroke": {"field": "series", "type": "nominal", "scale": {"domain": ["determinisztikus","Lindberger","SCRPCR","Guérin"], "range": ["#000000","#2a2a2a","#999999","#333333"]}, "legend": {"title": null, "orient": "none", "legendX": 160, "legendY": -6}},
    "strokeDash": {"field": "series", "type": "nominal", "scale": {"domain": ["determinisztikus","Lindberger","SCRPCR","Guérin"], "range": [[1,0],[2,2],[3,2],[7,5]]}, "legend": {"title": null, "orient": "none", "legendX": 160, "legendY": -6}}
   }},
  {"transform": [{"filter": "datum.series === 'determinisztikus'"}],
   "mark": {"type": "point", "shape": "circle", "filled": true, "color": "#000000", "size": 20, "opacity": 1},
   "encoding": {
    "x": {"field": "x", "type": "quantitative", "scale": {"domain": [0.1, 0.9], "nice": false, "zero": false}, "axis": {"orient": "top", "values": [0.1,0.2,0.3,0.4,0.5,0.6,0.7,0.8,0.9], "labels": false, "title": "COST266", "titlePadding": 14}},
    "y": {"field": "y", "type": "quantitative", "scale": {"domain": [0, 1], "nice": false}, "axis": {"orient": "right", "values": [0,0.2,0.4,0.6,0.8,1], "labels": false, "title": null}}
   }},
  {"transform": [{"filter": "datum.series === 'Lindberger'"}],
   "mark": {"type": "point", "shape": "M-1,-1L1,1M-1,1L1,-1", "filled": false, "stroke": "#222222", "strokeWidth": 1.2, "size": 30, "opacity": 1},
   "encoding": {
    "x": {"field": "x", "type": "quantitative", "scale": {"domain": [0.1, 0.9], "nice": false, "zero": false}, "axis": null},
    "y": {"field": "y", "type": "quantitative", "scale": {"domain": [0, 1], "nice": false}, "axis": null}
   }},
  {"transform": [{"filter": "datum.series === 'SCRPCR'"}],
   "mark": {"type": "point", "shape": "square", "filled": true, "color": "#999999", "size": 22, "opacity": 1},
   "encoding": {
    "x": {"field": "x", "type": "quantitative", "scale": {"domain": [0.1, 0.9], "nice": false, "zero": false}, "axis": null},
    "y": {"field": "y", "type": "quantitative", "scale": {"domain": [0, 1], "nice": false}, "axis": null}
   }},
  {"transform": [{"filter": "datum.series === 'Guérin'"}],
   "mark": {"type": "point", "shape": "square", "filled": true, "fill": "#ffffff", "stroke": "#333333", "strokeWidth": 1.1, "size": 28, "opacity": 1},
   "encoding": {
    "x": {"field": "x", "type": "quantitative", "scale": {"domain": [0.1, 0.9], "nice": false, "zero": false}, "axis": null},
    "y": {"field": "y", "type": "quantitative", "scale": {"domain": [0, 1], "nice": false}, "axis": null}
   }}
 ]
}
],
"config": {
 "view": {"stroke": "#222222", "strokeWidth": 1},
 "axis": {"domain": false, "grid": false, "labelFlush": false, "labelFont": "Liberation Sans", "labelFontSize": 14, "labelColor": "#1a1a1a", "titleFont": "Liberation Sans", "titleFontSize": 14, "titleFontWeight": "normal", "titleColor": "#333333", "tickColor": "#222222", "tickSize": -6, "tickWidth": 1},
 "title": {"font": "DejaVu Sans", "fontSize": 18, "fontStyle": "italic", "fontWeight": "normal", "color": "#111111", "orient": "bottom", "anchor": "middle", "frame": "group"},
 "legend": {"labelFont": "Liberation Sans", "labelFontSize": 14.5, "labelColor": "#000000", "labelAlign": "right", "labelOffset": -50, "labelLimit": 300, "symbolSize": 1444, "symbolOffset": 0, "symbolStrokeWidth": 1.6, "rowPadding": -22, "padding": 0, "symbolType": "stroke"},
 "line": {"strokeCap": "butt", "strokeJoin": "miter"}
}
}
